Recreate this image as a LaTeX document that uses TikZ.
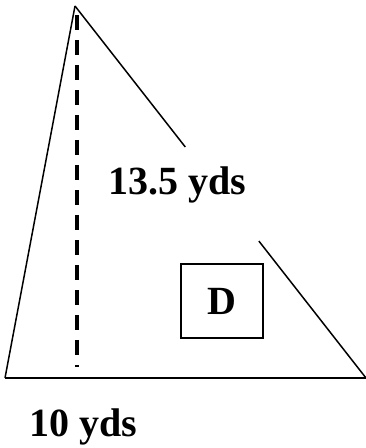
\documentclass[tikz,border=0pt]{standalone}
\usepackage{fontspec}
\setmainfont{Liberation Serif}
\usetikzlibrary{calc}
\begin{document}
\begin{tikzpicture}[x=1pt,y=-1pt,
  side/.style={line width=1.5pt},
  basel/.style={line width=2.5pt},
  height/.style={line width=4pt,dash pattern=on 15pt off 10pt},
  lbl/.style={font=\fontsize{40}{42}\selectfont\bfseries,inner sep=0pt,anchor=base west},
  boxd/.style={draw,line width=1.2pt,minimum width=82pt,minimum height=74pt,inner sep=0pt,font=\fontsize{40}{42}\selectfont\bfseries}]
\useasboundingbox (0,0) rectangle (365,448);
\coordinate (A) at (75,6);
\coordinate (B) at (5,378);
\coordinate (C) at (366,378);
\coordinate (H1) at (77,15);
\coordinate (H2) at (77,367);
\draw[side] (B) -- (A);
\draw[basel] (B) -- (C);
\draw[side] (A) -- ($(A)!0.379!(C)$);
\draw[side] ($(A)!0.632!(C)$) -- (C);
\draw[height] (H1) -- (H2);
\node[boxd] (D) at (222,301) {D};
\node[lbl] (L1) at (108,194) {13.5 yds};
\node[lbl] (L2) at (29,436) {10 yds};
\end{tikzpicture}
\end{document}
